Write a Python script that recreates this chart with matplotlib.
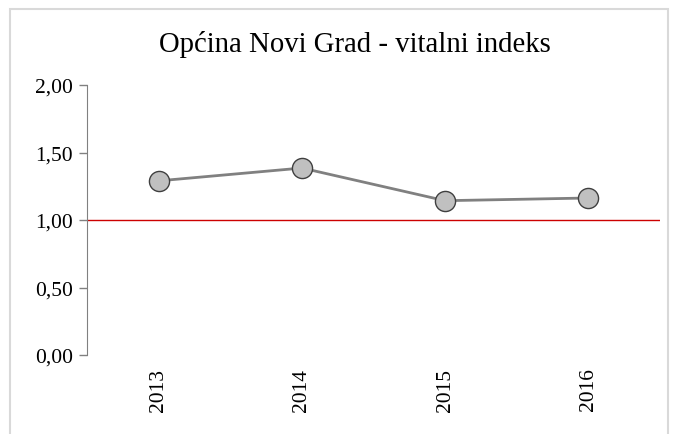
import matplotlib.pyplot as plt
from matplotlib.patches import Rectangle

plt.rcParams['font.family'] = ['Liberation Serif', 'DejaVu Serif']

years = ['2013', '2014', '2015', '2016']
vitalni_indeks = [1.29, 1.385, 1.143, 1.163]
y_ticks = [0.0, 0.5, 1.0, 1.5, 2.0]
y_labels = ['0,00', '0,50', '1,00', '1,50', '2,00']

fig = plt.figure(figsize=(6.75, 4.35), dpi=100)
W, H = 675, 435

# light grey chart-area frame
fig.patches.append(Rectangle((9.5 / W, -0.1), 658 / W, 1.1 - 9.5 / H,
                             transform=fig.transFigure, fill=False,
                             edgecolor='#d9d9d9', linewidth=1.5))

ax = fig.add_axes([87 / W, 1 - 356 / H, (660 - 87) / W, (356 - 86) / H])

x = range(len(years))
ax.plot(x, vitalni_indeks, color='#808080', linewidth=2, zorder=3,
        marker='o', markersize=14.5, markerfacecolor='#c0c0c0',
        markeredgecolor='#404040', markeredgewidth=1.0)

ax.axhline(1.0, color='#cc0000', linewidth=1.0, zorder=2)

ax.set_xlim(-0.5, len(years) - 0.5)
ax.set_ylim(0, 2)
ax.set_yticks(y_ticks)
ax.set_yticklabels(y_labels, fontsize=15.5)
ax.set_xticks(list(x))
ax.set_xticklabels(years, rotation=90, fontsize=15.5)

ax.tick_params(axis='x', length=0, pad=9)
ax.tick_params(axis='y', length=6, width=1, color='#808080', pad=4)

for s in ['top', 'right', 'bottom']:
    ax.spines[s].set_visible(False)
ax.spines['left'].set_color('#808080')

fig.text(355 / W, 1 - 45 / H, 'Općina Novi Grad - vitalni indeks',
         ha='center', va='center', fontsize=20.7)

fig.savefig('out.png', dpi=100)
